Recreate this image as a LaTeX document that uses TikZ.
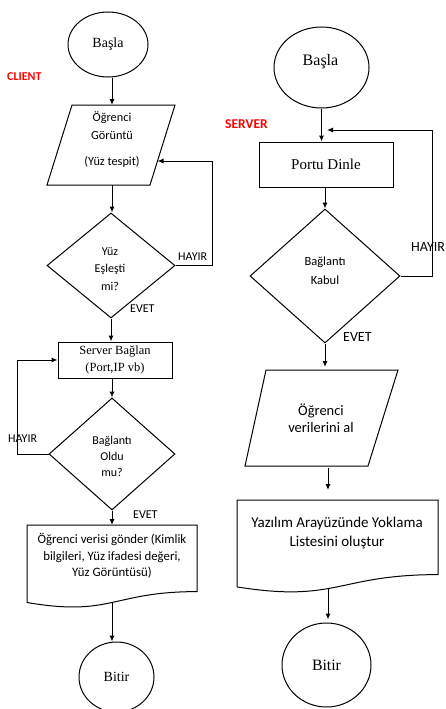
\documentclass[tikz,border=0pt]{standalone}
\usepackage{fontspec}
\setmainfont{Liberation Serif}
\newfontfamily\calfont{Carlito}
\usetikzlibrary{shapes.geometric,arrows.meta}
\tikzset{
  ln/.style={line width=1pt},
  arr/.style={ln,-{Latex[length=6pt,width=5pt]}},
  term/.style={draw,ln,ellipse,inner sep=0pt},
  procbox/.style={draw,ln,rectangle,inner sep=0pt,align=center},
  decbox/.style={draw,ln,diamond,inner sep=0pt},
  lbl/.style={font=\calfont\fontsize{12}{14}\selectfont,inner sep=0pt,anchor=west},
  lblr/.style={font=\calfont\fontsize{14}{16}\selectfont,inner sep=0pt,anchor=west},
  txt/.style={align=center,inner sep=0pt},
  tag/.style={anchor=west,text=red,inner sep=0pt},
}
\begin{document}
\begin{tikzpicture}[x=1pt,y=-1pt]
\useasboundingbox (0,0) rectangle (446,709);
% ---------------- CLIENT ----------------
\node[term, minimum width=80pt, minimum height=65pt, font=\fontsize{14}{16}\selectfont] (s1) at (108,44.5) {Başla};
\node[tag, font=\calfont\bfseries\fontsize{12}{14}\selectfont] (client) at (7,77) {CLIENT};

\draw[ln] (72,105) -- (175,105) -- (150,185) -- (47,185) -- cycle;
\coordinate (p1n) at (112,105);
\coordinate (p1s) at (112,185);
\coordinate (p1e) at (157.5,161);
\node[txt, font=\calfont\fontsize{12.3}{18}\selectfont] (p1t) at (112,140) {Öğrenci\\Görüntü\\[8pt](Yüz tespit)};
\draw[arr] (s1.south -| p1n) -- (p1n);

\node[decbox, minimum width=128pt, minimum height=105pt] (d1) at (111,265.5) {};
\node[txt, font=\calfont\fontsize{12}{17.5}\selectfont] (d1t) at (110,269) {Yüz\\Eşleşti\\mi?};
\draw[arr] (p1s) -- (p1s |- d1.north);
\draw[arr] (d1.east) -- ++(37,0) |- (p1e);
\node[lbl] (h1) at (178,257) {HAYIR};
\node[lbl] (e1) at (130,309) {EVET};

\node[procbox, minimum width=114pt, minimum height=36pt, font=\fontsize{12.5}{17}\selectfont] (r1) at (115,360) {Server Bağlan\\(Port,IP vb)};
\draw[arr] (d1.south) -- (d1.south |- r1.north);

\node[decbox, minimum width=126pt, minimum height=112pt] (d2) at (112,454) {};
\node[txt, font=\calfont\fontsize{12}{16}\selectfont] (d2t) at (112,456) {Bağlantı\\Oldu\\mu?};
\draw[arr] (r1.south -| d2.north) -- (d2.north);
\draw[arr] (d2.west) -- ++(-31,0) |- (r1.west);
\node[lbl] (h2) at (8,439) {HAYIR};
\node[lbl] (e2) at (133,515) {EVET};

\draw[ln] (27,525) -- (197,525) -- (197,591.6) .. controls (112,591.6) and (112,617) .. (27,602.5) -- cycle;
\coordinate (doc1n) at (112,525);
\coordinate (doc1s) at (112,603);
\draw[arr] (d2.south) -- (doc1n);
\node[txt, font=\calfont\fontsize{12.8}{16.5}\selectfont] (doc1t) at (112,556) {Öğrenci verisi gönder (Kimlik\\bilgileri, Yüz ifadesi değeri,\\Yüz Görüntüsü)};

\node[term, minimum width=75pt, minimum height=70pt, font=\fontsize{14}{16}\selectfont] (b1) at (116.5,677) {Bitir};
\draw[arr] (doc1s) -- (doc1s |- b1.north);

% ---------------- SERVER ----------------
\node[term, minimum width=95pt, minimum height=81pt] (s2) at (321.5,67.5) {};
\node[txt, font=\fontsize{16}{19}\selectfont] (s2t) at (320.5,62) {Başla};
\node[tag, font=\calfont\bfseries\fontsize{13.5}{16}\selectfont] (server) at (225,124) {SERVER};

\node[procbox, minimum width=134pt, minimum height=45pt, font=\fontsize{15}{18}\selectfont] (r2) at (326,164.5) {Portu Dinle};
\draw[arr] (s2.south) -- (s2.south |- r2.north);

\node[decbox, minimum width=150pt, minimum height=134pt] (d3) at (325,276) {};
\node[txt, font=\calfont\fontsize{12.5}{19}\selectfont] (d3t) at (325,271) {Bağlantı\\Kabul};
\draw[arr] (r2.south -| d3.north) -- (d3.north);
\coordinate (fb) at (327,130);
\draw[arr] (d3.east) -- ++(32,0) |- (fb);
\node[lblr] (h3) at (411,247) {HAYIR};
\node[lblr] (e3) at (343,337) {EVET};

\draw[ln] (266,370) -- (398,370) -- (368,466) -- (245,466) -- cycle;
\coordinate (p2n) at (325,370);
\coordinate (p2s) at (328,466);
\draw[arr, shorten >=3pt] (d3.south) -- (p2n);
\node[txt, font=\calfont\fontsize{14.5}{17.5}\selectfont] (p2t) at (321,418) {Öğrenci\\verilerini al};

\draw[ln] (237,500) -- (438,500) -- (438,574.6) .. controls (337.5,574.6) and (337.5,603) .. (237,586.9) -- cycle;
\coordinate (doc2n) at (328,500);
\coordinate (doc2s) at (328,589);
\draw[arr, shorten <=2pt, shorten >=10pt] (p2s) -- (doc2n);
\node[txt, font=\calfont\fontsize{15}{19}\selectfont] (doc2t) at (337,533) {Yazılım Arayüzünde Yoklama\\Listesini oluştur};

\node[term, minimum width=89pt, minimum height=84pt, font=\fontsize{15.8}{18}\selectfont] (b2) at (326.5,665) {Bitir};
\draw[arr, shorten >=3pt] (doc2s) -- (doc2s |- b2.north);
\end{tikzpicture}
\end{document}
